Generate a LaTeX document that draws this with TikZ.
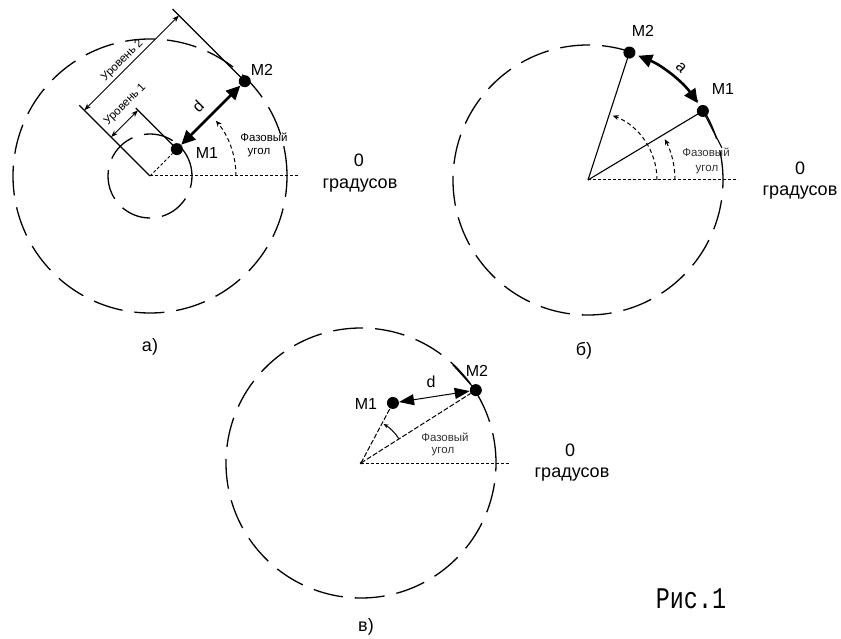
\documentclass[tikz,border=0pt]{standalone}
\usepackage{fontspec}
\setmainfont{Liberation Sans}
\newfontfamily\figfont{Liberation Mono}
\usetikzlibrary{arrows.meta,calc}

\tikzset{
  rim/.style={line width=1.3pt,dash pattern=on 30pt off 12pt},
  axis/.style={line width=1pt,dash pattern=on 3pt off 2pt},
  radial/.style={line width=1pt,dash pattern=on 5pt off 2pt},
  ray/.style={line width=1.1pt},
  dot/.style={circle,fill=black,inner sep=0pt,minimum size=12pt},
  lbl/.style={inner sep=1pt,font=\fontsize{16}{18}\selectfont},
  small/.style={inner sep=0pt,font=\fontsize{11.5}{13}\selectfont},
  big/.style={inner sep=1pt,font=\fontsize{18}{20}\selectfont},
  dimline/.style={line width=0.9pt,{Stealth[length=7pt,width=5pt]}-{Stealth[length=7pt,width=5pt]}},
  bold/.style={line width=2.6pt,{Triangle[length=14pt,width=13pt]}-{Triangle[length=14pt,width=13pt]}},
  thin/.style={line width=1pt,{Triangle[length=15pt,width=11pt]}-{Triangle[length=15pt,width=11pt]}},
  phase/.style={line width=1pt,dash pattern=on 4pt off 3pt,-{Stealth[length=6pt,width=5pt]}},
}

\begin{document}
\begin{tikzpicture}[x=1pt,y=1pt]
\useasboundingbox (0,0) rectangle (841,638);

% a)
\begin{scope}[shift={(150,462)}]
\coordinate (a-C) at (0,0);
\draw[rim] (a-C) circle[radius=137pt];
\draw[rim] (a-C) circle[radius=42pt];
\node[dot] (a-M1) at (45:38) {};
\node[dot] (a-M2) at (45:134) {};
\coordinate (a-X) at (150,0);
\draw[axis] (a-C) -- (a-X);
\draw[axis] (a-C) -- (a-M1);
\coordinate (a-E0) at (135:100);
\coordinate (a-E1) at ($(a-M1)+(135:58)$);
\coordinate (a-E2) at ($(a-M2)+(135:102)$);
\draw[ray] (a-C) -- (a-E0);
\draw[ray] (a-M1.center) -- (a-E1);
\draw[ray] (a-M2.center) -- (a-E2);
\coordinate (a-D1s) at (135:55);
\coordinate (a-D1e) at ($(a-D1s)+(45:38)$);
\coordinate (a-D2s) at (135:93);
\coordinate (a-D2e) at ($(a-D2s)+(45:134)$);
\draw[dimline] (a-D1s) -- (a-D1e);
\draw[dimline] (a-D2s) -- (a-D2e);
\node[small,rotate=45] (a-lev1) at ($(a-D1s)+(45:33)+(135:13)$) {Уровень 1};
\node[small,rotate=45] (a-lev2) at ($(a-D2s)+(45:62)+(135:8)$) {Уровень 2};
\draw[bold] (a-M1) -- (a-M2);
\node[lbl,rotate=45] (a-d) at ($(45:83)+(135:15)$) {d};
\draw[phase] (86,0) arc[start angle=0,end angle=40,radius=86pt];
\node[lbl] (a-M1-t) at (57,23) {M1};
\node[lbl] (a-M2-t) at (112,106) {M2};
\node[small] (a-ph1) at (114,39) {Фазовый};
\node[small] (a-ph2) at (109,23) {угол};
\node[big] (a-zero) at (209,16) {0};
\node[big] (a-deg) at (210,-10) {градусов};
\node[big] (a-cap) at (0,-171) {а)};
\end{scope}

% б)
\begin{scope}[shift={(588,458)}]
\coordinate (b-C) at (0,0);
\draw[rim] (b-C) circle[radius=135pt];
\node[dot] (b-M1) at (31:134) {};
\node[dot] (b-M2) at (72:134) {};
\coordinate (b-X) at (150,0);
\draw[axis] (b-C) -- (b-X);
\draw[ray] (b-C) -- (b-M1.center);
\draw[ray] (b-C) -- (b-M2.center);
\coordinate (b-T) at (134,32);
\draw[ray] (b-M1.center) -- (b-T);
\draw[bold] (68:134) arc[start angle=68,end angle=35,radius=134pt];
\node[lbl,rotate=-45] (b-a) at (93,112) {a};
\draw[phase] (69,0) arc[start angle=0,end angle=69,radius=69pt];
\draw[phase] (87,0) arc[start angle=0,end angle=28,radius=87pt];
\node[lbl] (b-M1-t) at (135,91) {M1};
\node[lbl] (b-M2-t) at (55,149) {M2};
\node[small,text=black!80] (b-ph1) at (118,28) {Фазовый};
\node[small,text=black!80] (b-ph2) at (119,10) {угол};
\node[big] (b-zero) at (212,12) {0};
\node[big] (b-deg) at (212,-13) {градусов};
\node[big] (b-cap) at (-4,-171) {б)};
\end{scope}

% в)
\begin{scope}[shift={(361,175)}]
\coordinate (c-C) at (0,0);
\draw[rim] (c-C) circle[radius=135pt];
\fill (c-C) circle[radius=1.5pt];
\node[dot] (c-M1) at (62:68) {};
\node[dot] (c-M2) at (32.4:136) {};
\coordinate (c-X) at (149,0);
\draw[axis] (c-C) -- (c-X);
\draw[radial] (c-C) -- (c-M1);
\draw[radial] (c-C) -- (c-M2);
\coordinate (c-T) at (92,98);
\draw[ray] (c-M2.center) -- (c-T);
\draw[thin] (c-M1) -- (c-M2);
\draw[line width=1pt,-{Stealth[length=5pt,width=4pt]}] (33:45) arc[start angle=33,end angle=60,radius=45pt];
\node[lbl] (c-M1-t) at (5,59) {M1};
\node[lbl] (c-M2-t) at (116,92) {M2};
\node[lbl] (c-d) at (70,81) {d};
\node[small,text=black!80] (c-ph1) at (84,26) {Фазовый};
\node[small,text=black!80] (c-ph2) at (82,11) {угол};
\node[big] (c-zero) at (209,13) {0};
\node[big] (c-deg) at (211,-12) {градусов};
\node[big] (c-cap) at (5,-164) {в)};
\end{scope}

\node[inner sep=0pt,font=\figfont\fontsize{30}{30}\selectfont] (fig-cap) at (691,39) {\scalebox{0.78}[1]{Рис.1}};
\end{tikzpicture}
\end{document}
